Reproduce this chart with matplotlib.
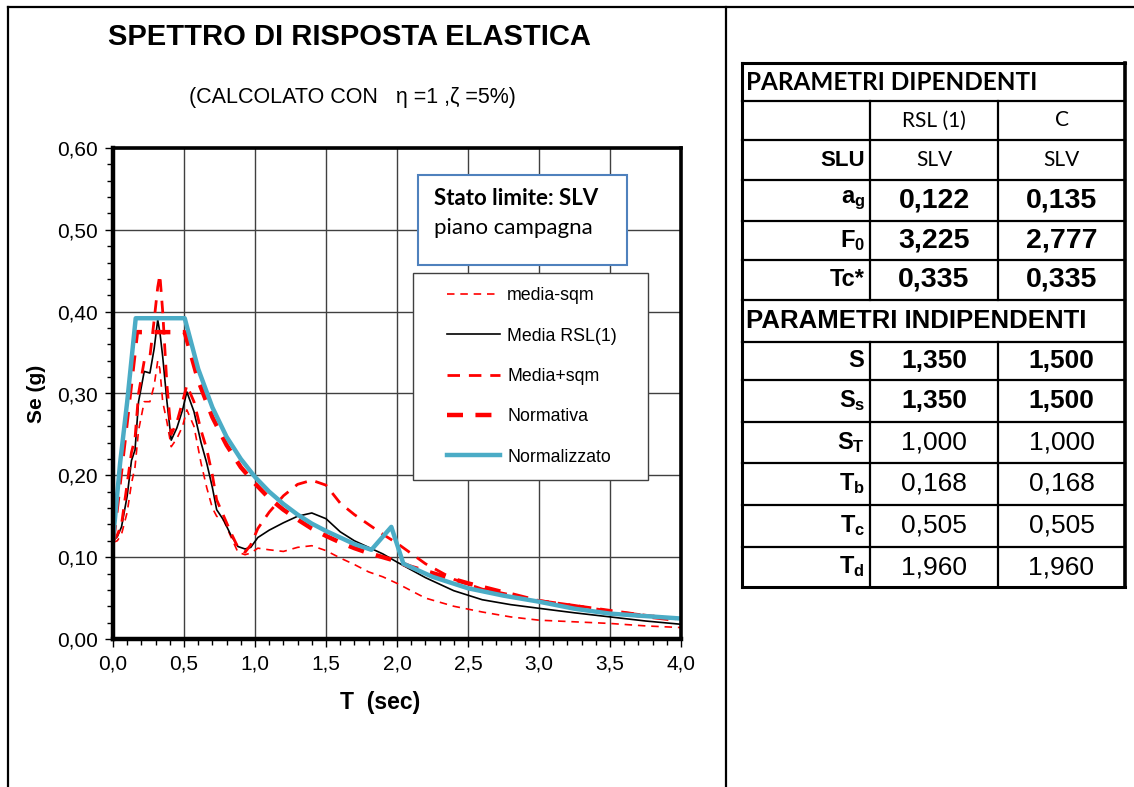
import matplotlib
matplotlib.use("Agg")
import matplotlib.pyplot as plt
from matplotlib.lines import Line2D
from matplotlib.patches import Rectangle
from matplotlib.legend_handler import HandlerLine2D
from matplotlib.ticker import MultipleLocator, FuncFormatter

W, H = 1134, 787
ARIAL = "Liberation Sans"
CALIBRI = "Lato"

plt.rcParams["font.family"] = ARIAL
plt.rcParams["mathtext.fontset"] = "custom"
plt.rcParams["mathtext.rm"] = ARIAL
plt.rcParams["mathtext.bf"] = ARIAL + ":bold"
plt.rcParams["mathtext.it"] = ARIAL + ":italic"

# periodi comuni alle curve registrate (sec)
t_rec = [0.0, 0.03, 0.06, 0.10, 0.13, 0.155, 0.18, 0.22, 0.26, 0.29, 0.315, 0.33,
         0.35, 0.38, 0.41, 0.45, 0.49, 0.52, 0.57, 0.62, 0.66, 0.70, 0.73, 0.78,
         0.83, 0.88, 0.93, 0.97, 1.02, 1.10, 1.20, 1.30, 1.40, 1.50, 1.60, 1.70,
         1.80, 1.90, 2.00, 2.20, 2.40, 2.60, 2.80, 3.00, 3.25, 3.50, 3.75, 4.00]

media_meno_sqm = [0.118, 0.120, 0.128, 0.155, 0.190, 0.210, 0.255, 0.290, 0.290, 0.310,
                  0.340, 0.330, 0.290, 0.265, 0.235, 0.245, 0.260, 0.280, 0.260, 0.215,
                  0.185, 0.160, 0.150, 0.145, 0.125, 0.106, 0.103, 0.105, 0.111, 0.109,
                  0.107, 0.112, 0.114, 0.108, 0.099, 0.091, 0.082, 0.076, 0.068, 0.050,
                  0.040, 0.033, 0.027, 0.023, 0.021, 0.019, 0.016, 0.014]

media_rsl = [0.120, 0.125, 0.137, 0.175, 0.218, 0.231, 0.290, 0.327, 0.325, 0.355,
             0.390, 0.375, 0.345, 0.290, 0.243, 0.258, 0.280, 0.302, 0.278, 0.240,
             0.215, 0.185, 0.158, 0.145, 0.127, 0.113, 0.110, 0.112, 0.124, 0.133,
             0.142, 0.150, 0.154, 0.147, 0.131, 0.120, 0.112, 0.104, 0.094, 0.075,
             0.059, 0.048, 0.042, 0.0375, 0.032, 0.027, 0.022, 0.018]

media_piu_sqm = [0.120, 0.127, 0.140, 0.190, 0.228, 0.245, 0.300, 0.340, 0.345, 0.390,
                 0.430, 0.445, 0.400, 0.310, 0.250, 0.265, 0.290, 0.310, 0.290, 0.255,
                 0.232, 0.200, 0.170, 0.150, 0.130, 0.112, 0.106, 0.115, 0.135, 0.155,
                 0.175, 0.189, 0.194, 0.188, 0.166, 0.152, 0.140, 0.128, 0.117, 0.092,
                 0.073, 0.061, 0.054, 0.047, 0.041, 0.035, 0.029, 0.024]

# spettro di normativa
t_norm = [0.0, 0.168, 0.505, 0.60, 0.70, 0.80, 0.90, 1.00, 1.10, 1.20, 1.30, 1.40, 1.50,
          1.60, 1.70, 1.80, 1.96, 2.10, 2.30, 2.50, 2.75, 3.00, 3.25, 3.50, 3.75, 4.00]
se_norm = [0.120, 0.375, 0.375, 0.316, 0.271, 0.237, 0.210, 0.190, 0.172, 0.158, 0.146,
           0.135, 0.126, 0.118, 0.111, 0.105, 0.097, 0.088, 0.078, 0.068, 0.057, 0.046,
           0.040, 0.033, 0.028, 0.023]

# spettro normalizzato
t_nz = [0.0, 0.05, 0.10, 0.16, 0.505, 0.60, 0.70, 0.80, 0.90, 1.00, 1.10, 1.20, 1.30,
        1.40, 1.50, 1.60, 1.70, 1.82, 1.96, 2.045, 2.25, 2.50, 2.75, 3.00, 3.25, 3.50,
        3.75, 4.00]
se_nz = [0.121, 0.215, 0.290, 0.392, 0.392, 0.330, 0.283, 0.247, 0.220, 0.198, 0.180,
         0.165, 0.152, 0.141, 0.132, 0.124, 0.116, 0.109, 0.137, 0.092, 0.076, 0.062,
         0.053, 0.0456, 0.037, 0.031, 0.028, 0.025]

# tabella parametri
col_headers = ["RSL (1)", "C"]
stato = ["SLV", "SLV"]
dip_labels = [r"$\mathbf{a_g}$", r"$\mathbf{F_0}$", "Tc*"]
dip_rsl = ["0,122", "3,225", "0,335"]
dip_c = ["0,135", "2,777", "0,335"]
ind_labels = [r"$\mathbf{S}$", r"$\mathbf{S_s}$", r"$\mathbf{S_T}$",
              r"$\mathbf{T_b}$", r"$\mathbf{T_c}$", r"$\mathbf{T_d}$"]
ind_rsl = ["1,350", "1,350", "1,000", "0,168", "0,505", "1,960"]
ind_c = ["1,500", "1,500", "1,000", "0,168", "0,505", "1,960"]
ind_bold = [True, True, False, False, False, False]


def fx(x):
    return x / W


def fy(y):
    return 1 - y / H


fig = plt.figure(figsize=(W / 100, H / 100), dpi=100)

# cornice esterna e divisorio
for xs, ys in [((8, W), (7, 7)), ((8, 8), (7, H)), ((726, 726), (7, H))]:
    fig.add_artist(Line2D([fx(v) for v in xs], [fy(v) for v in ys],
                          color="black", lw=1.6))

fig.text(fx(349), fy(37), "SPETTRO DI RISPOSTA ELASTICA", ha="center", va="center",
         fontsize=21, fontweight="bold")
fig.text(fx(352), fy(97), "(CALCOLATO CON   \u03b7 =1 ,\u03b6 =5%)", ha="center",
         va="center", fontsize=15.5)

ax = fig.add_axes([fx(113), fy(639), (681 - 113) / W, (639 - 148) / H])

ax.plot(t_rec, media_meno_sqm, color="red", lw=1.2, dashes=(4.5, 3.5),
        label="media-sqm")
ax.plot(t_rec, media_rsl, color="black", lw=1.2, label="Media RSL(1)")
ax.plot(t_rec, media_piu_sqm, color="red", lw=2.0, dashes=(4.5, 3.2),
        label="Media+sqm")
ax.plot(t_norm, se_norm, color="red", lw=3.2, dashes=(3.6, 2.8), label="Normativa")
ax.plot(t_nz, se_nz, color="#4BACC6", lw=3.2, label="Normalizzato")

ax.set_xlim(0, 4)
ax.set_ylim(0, 0.6)
ax.xaxis.set_major_locator(MultipleLocator(0.5))
ax.xaxis.set_minor_locator(MultipleLocator(0.1))
ax.yaxis.set_major_locator(MultipleLocator(0.1))
ax.yaxis.set_minor_locator(MultipleLocator(0.02))
ax.xaxis.set_major_formatter(FuncFormatter(lambda v, p: f"{v:.1f}".replace(".", ",")))
ax.yaxis.set_major_formatter(FuncFormatter(lambda v, p: f"{v:.2f}".replace(".", ",")))
ax.tick_params(which="major", direction="out", length=6, width=1, labelsize=15,
               pad=5)
ax.tick_params(which="minor", direction="out", length=4, width=1)
ax.grid(True, which="major", color="#404040", lw=1)
ax.set_axisbelow(True)
for side, lw in [("left", 3.2), ("bottom", 3.2), ("top", 2.6), ("right", 2.6)]:
    ax.spines[side].set_linewidth(lw)

ax.set_ylabel("Se (g)", fontsize=15, fontweight="bold", labelpad=8)
ax.set_xlabel("T  (sec)", fontsize=16.5, fontweight="bold")
ax.xaxis.set_label_coords(0.47, -0.105)

# riquadro stato limite
ax.add_patch(Rectangle((0.537, 0.762), 0.368, 0.183, transform=ax.transAxes,
                       facecolor="white", edgecolor="#4F81BD", lw=1.5, zorder=5))
ax.text(0.565, 0.898, "Stato limite: SLV", transform=ax.transAxes, fontsize=16,
        fontweight="bold", family=CALIBRI, va="center", zorder=6)
ax.text(0.565, 0.837, "piano campagna", transform=ax.transAxes, fontsize=16,
        family=CALIBRI, va="center", zorder=6)

# le linee di legenda partono un po' piu' a destra del bordo
leg = ax.legend(loc="upper left", bbox_to_anchor=(0.528, 0.745, 0.414, 0.0),
                mode="expand", borderaxespad=0, fontsize=12.8, handlelength=4.1,
                handletextpad=0.4, labelspacing=1.31, borderpad=0.8,
                fancybox=False, framealpha=1, edgecolor="#404040",
                handler_map={Line2D: HandlerLine2D(xpad=1.12)})
leg.get_frame().set_linewidth(1)
leg.set_zorder(6)

# tabella parametri
rows = [63, 101, 140, 180, 221, 260, 300, 342, 380, 422, 463, 505, 547, 587]
cols = [742, 870, 998, 1125]
tl = 1.6


def hline(y, lw=tl):
    fig.add_artist(Line2D([fx(cols[0]), fx(cols[3])], [fy(y), fy(y)], color="black", lw=lw))


def vline(x, y0, y1, lw=tl):
    fig.add_artist(Line2D([fx(x), fx(x)], [fy(y0), fy(y1)], color="black", lw=lw))


for r in rows:
    hline(r, 2.2 if r in (rows[0], rows[-1]) else tl)
vline(cols[0], rows[0], rows[-1], 2.2)
vline(cols[3], rows[0], rows[-1], 2.6)
for c in cols[1:3]:
    vline(c, rows[1], rows[6])
    vline(c, rows[7], rows[-1])


def mid(i):
    return (rows[i] + rows[i + 1]) / 2


cx = [(cols[1] + cols[2]) / 2, (cols[2] + cols[3]) / 2]
lab_x = cols[1] - 5

fig.text(fx(746), fy(mid(0)), "PARAMETRI DIPENDENTI", family=CALIBRI, fontsize=17.5,
         fontweight="bold", va="center")
for j in range(2):
    fig.text(fx(cx[j]), fy(mid(1)), col_headers[j], family=CALIBRI, fontsize=15,
             ha="center", va="center")
    fig.text(fx(cx[j]), fy(mid(2)), stato[j], family=CALIBRI, fontsize=15,
             ha="center", va="center")
fig.text(fx(lab_x), fy(mid(2)), "SLU", fontsize=16, fontweight="bold", ha="right",
         va="center")

for i, lab in enumerate(dip_labels):
    y = fy(mid(3 + i))
    fig.text(fx(lab_x), y, lab, fontsize=17, fontweight="bold", ha="right",
             va="center")
    fig.text(fx(cx[0]), y, dip_rsl[i], fontsize=20.5, fontweight="bold", ha="center",
             va="center")
    fig.text(fx(cx[1]), y, dip_c[i], fontsize=20.5, fontweight="bold", ha="center",
             va="center")

fig.text(fx(746), fy(mid(6)), "PARAMETRI INDIPENDENTI", fontsize=18.5,
         fontweight="bold", va="center")
for i, lab in enumerate(ind_labels):
    y = fy(mid(7 + i))
    wt = "bold" if ind_bold[i] else "normal"
    fig.text(fx(lab_x), y, lab, fontsize=17, ha="right", va="center")
    fig.text(fx(cx[0]), y, ind_rsl[i], fontsize=19, fontweight=wt, ha="center",
             va="center")
    fig.text(fx(cx[1]), y, ind_c[i], fontsize=19, fontweight=wt, ha="center",
             va="center")

fig.savefig("out.png", dpi=100)
